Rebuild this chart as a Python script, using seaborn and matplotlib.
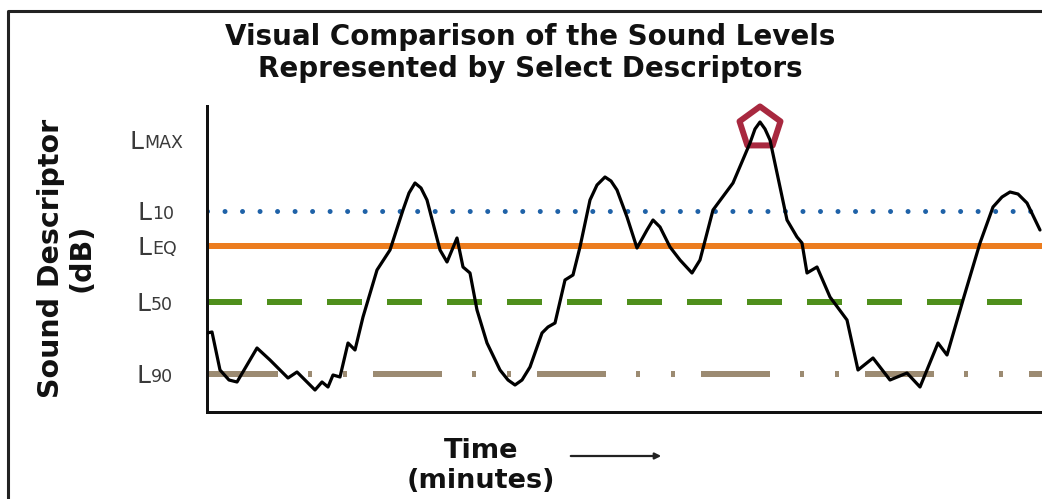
import numpy as np
import pandas as pd
import matplotlib
matplotlib.use("Agg")
import matplotlib.pyplot as plt
from matplotlib.lines import Line2D
import seaborn as sns

# ---------------- data ----------------
time_min = [0.000, 0.359, 0.934, 1.581, 2.156, 3.593, 4.527, 5.820, 6.467, 7.760,
            8.263, 8.695, 9.054, 9.557, 10.132, 10.635, 11.210, 12.216, 13.150, 14.084,
            14.515, 14.946, 15.377, 15.808, 16.743, 17.246, 17.964, 18.395, 18.898, 19.401,
            20.120, 21.054, 21.629, 22.132, 22.635, 23.210, 24.072, 24.503, 25.006, 25.725,
            26.299, 26.802, 27.521, 28.024, 28.599, 29.030, 29.461, 30.180, 30.898, 31.617,
            32.048, 32.551, 33.269, 33.988, 34.850, 35.425, 36.359, 37.796, 39.018, 39.377,
            39.737, 40.096, 40.455, 41.174, 41.677, 42.395, 42.754, 43.114, 43.832, 44.766,
            45.988, 46.778, 47.856, 49.078, 50.299, 51.234, 52.527, 53.174, 54.323, 55.545,
            56.479, 57.126, 57.701, 58.275, 58.922, 59.856]
sound_db = [47.9, 48.0, 44.2, 43.2, 43.0, 46.4, 45.2, 43.4, 44.0, 42.2,
            43.0, 42.5, 43.7, 43.5, 46.9, 46.2, 49.5, 54.2, 56.2, 60.2,
            61.9, 62.9, 62.4, 61.2, 56.2, 55.0, 57.4, 54.5, 53.9, 50.2,
            46.9, 44.2, 43.2, 42.7, 43.2, 44.5, 47.9, 48.5, 48.9, 53.2,
            53.7, 56.5, 61.2, 62.7, 63.5, 63.1, 62.2, 59.5, 56.4, 58.2,
            59.2, 58.5, 56.5, 55.2, 53.9, 55.2, 60.2, 62.9, 66.9, 68.3,
            69.0, 68.3, 67.2, 62.5, 59.2, 57.5, 56.9, 53.9, 54.5, 51.5,
            49.2, 44.2, 45.4, 43.2, 43.9, 42.5, 46.9, 45.7, 51.2, 56.9,
            60.5, 61.5, 62.0, 61.8, 60.9, 58.2]

descriptor_names = ["L90", "L50", "LEQ", "L10", "LMAX"]
descriptor_suffix = ["90", "50", "EQ", "10", "MAX"]
descriptor_levels = [43.8, 51.0, 56.6, 60.1, 67.2]

title_text = "Visual Comparison of the Sound Levels\nRepresented by Select Descriptors"
ylabel_text = "Sound Descriptor\n(dB)"
xlabel_text = "Time\n(minutes)"

# ---------------- style ----------------
sns.set_theme(style="white")
plt.rcParams["font.family"] = ["DejaVu Sans"]
plt.rcParams["lines.scale_dashes"] = False

PX = 0.72  # points per pixel at dpi 100

fig = plt.figure(figsize=(10.42, 4.99), dpi=100)
ax = fig.add_axes([207 / 1042, 1 - 412 / 499, 1 - 207 / 1042, (412 - 106) / 499])

ax.set_xlim(0, 60)
ax.set_ylim(40, 70.6)

# reference lines
line_styles = {
    "L10": dict(color="#1f62a8", lw=5 * PX, ls=(0, (0.01, 17.5 * PX)), cap="round"),
    "LEQ": dict(color="#ec7d1f", lw=6 * PX, ls="-", cap="butt"),
    "L50": dict(color="#4f8f1c", lw=6 * PX, ls=(0, (35 * PX, 25 * PX)), cap="butt"),
    "L90": dict(color="#9c8b72", lw=6 * PX,
                ls=(-2 * PX, (69 * PX, 30 * PX, 4 * PX, 31 * PX, 4 * PX, 26 * PX)), cap="butt"),
}
for name, lvl in zip(descriptor_names, descriptor_levels):
    if name in line_styles:
        st = line_styles[name]
        ax.axhline(lvl, color=st["color"], lw=st["lw"], ls=st["ls"],
                   dash_capstyle=st["cap"], solid_capstyle="butt", zorder=2)

# the sound level trace
df = pd.DataFrame({"time": time_min, "level": sound_db})
sns.lineplot(data=df, x="time", y="level", ax=ax, color="black", lw=3.2 * PX,
             zorder=4, sort=False)
ax.lines[-1].set_solid_joinstyle("round")

# LMAX marker at the max of the trace
imax = int(np.argmax(sound_db))
ax.scatter([time_min[imax]], [sound_db[imax] - 0.6], marker="p", s=(31) ** 2,
           facecolors="none", edgecolors="#a8283f", linewidths=6 * PX, zorder=3,
           clip_on=False)

# spines
for s in ["top", "right"]:
    ax.spines[s].set_visible(False)
for s in ["left", "bottom"]:
    ax.spines[s].set_color("#111111")
    ax.spines[s].set_linewidth(3 * PX)
ax.set_xticks([])
ax.set_yticks([])
ax.set_xlabel("")
ax.set_ylabel("")

# descriptor labels: big "L" + small suffix
label_color = "#3a3a3a"
right_edges = {"MAX": 183, "10": 174, "EQ": 177, "50": 173, "90": 173}
for suf, lvl in zip(descriptor_suffix, descriptor_levels):
    t = ax.annotate(suf, xy=(0, lvl), xycoords=("axes fraction", "data"),
                    xytext=((right_edges[suf] - 207) * PX, -8.5 * PX),
                    textcoords="offset points",
                    ha="right", va="baseline", fontsize=12.5, color=label_color)
    ax.annotate("L", xy=(0, 0), xycoords=t, xytext=(-0.3, -1.0),
                textcoords="offset points", ha="right", va="bottom",
                fontsize=18, color=label_color)

# titles and labels
fig.text(530 / 1042, 1 - 53 / 499, title_text, ha="center", va="center",
         fontsize=20, fontweight="bold", color="#111111", linespacing=1.2)
fig.text(66 / 1042, 1 - 258 / 499, ylabel_text, ha="center", va="center",
         rotation=90, fontsize=20.5, fontweight="bold", color="#111111",
         linespacing=1.1, multialignment="center")
fig.text(481 / 1042, 1 - 466 / 499, xlabel_text, ha="center", va="center",
         fontsize=19.5, fontweight="bold", color="#111111", linespacing=1.15)

# arrow next to Time
fig.add_artist(matplotlib.patches.FancyArrowPatch(
    (568 / 1042, 1 - 456 / 499), (664 / 1042, 1 - 456 / 499),
    transform=fig.transFigure, arrowstyle="-|>", mutation_scale=9,
    color="#222222", lw=1.6))

# outer frame (top and left edges)
fig.add_artist(Line2D([8 / 1042, 8 / 1042, 1.0], [0, 1 - 11 / 499, 1 - 11 / 499],
                      transform=fig.transFigure, color="#222222", lw=2.2))

fig.savefig("out.png", dpi=100, facecolor="white")
